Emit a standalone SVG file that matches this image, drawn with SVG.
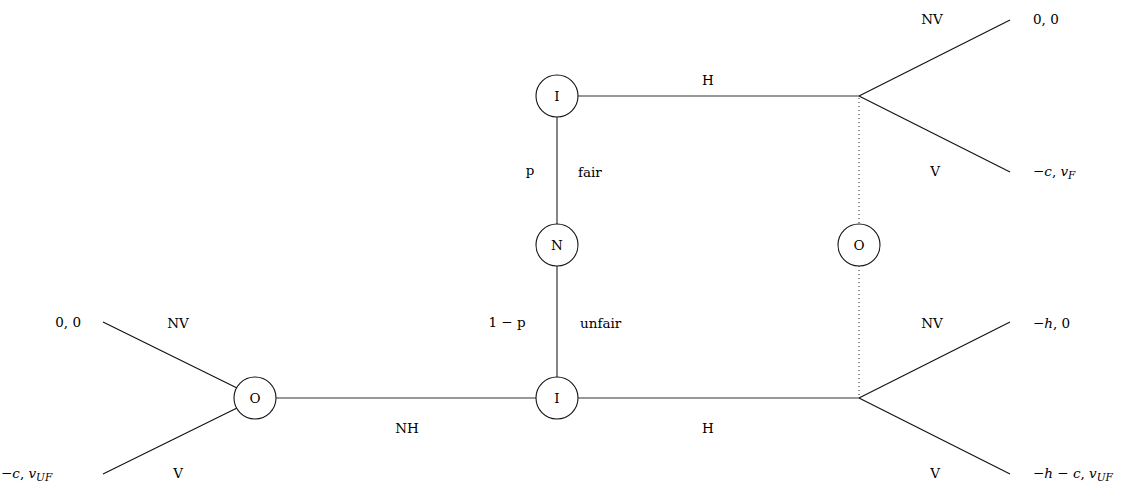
<svg xmlns="http://www.w3.org/2000/svg" width="1139" height="483" viewBox="0 0 1139 483">
<style>
text{font-family:"DejaVu Serif","Liberation Serif",serif;font-size:13.5px;fill:#000}
.m{font-style:italic}
.sub{font-size:10.5px;font-style:italic}
.e{stroke:#333;stroke-width:1.2;fill:none}
.d{stroke:#111;stroke-width:1.1;fill:none}
.dot{stroke:#222;stroke-width:1;stroke-dasharray:1 3;fill:none}
.n circle{fill:#fff;stroke:#111;stroke-width:1.1}
</style>
<rect width="1139" height="483" fill="#fff"/>
<g id="connectors">
<line class="e" x1="276" y1="398" x2="536" y2="398"/>
<line class="e" x1="578" y1="398" x2="859" y2="398"/>
<line class="e" x1="557" y1="377" x2="557" y2="266"/>
<line class="e" x1="557" y1="224" x2="557" y2="117"/>
<line class="e" x1="578" y1="96" x2="859" y2="96"/>
<line class="d" x1="237" y1="388" x2="103" y2="322"/>
<line class="d" x1="237" y1="408" x2="103" y2="474"/>
<line class="d" x1="859" y1="96" x2="1010" y2="20"/>
<line class="d" x1="859" y1="96" x2="1010" y2="172"/>
<line class="d" x1="859" y1="398" x2="1010" y2="322"/>
<line class="d" x1="859" y1="398" x2="1010" y2="474"/>
<line class="dot" x1="859" y1="98" x2="859" y2="224"/>
<line class="dot" x1="859" y1="266" x2="859" y2="396"/>
</g>
<g id="node-O-left" class="n"><circle cx="255" cy="398" r="21"/><text x="255" y="403" text-anchor="middle">O</text></g>
<g id="node-I-bottom" class="n"><circle cx="557" cy="398" r="21"/><text x="557" y="403" text-anchor="middle">I</text></g>
<g id="node-N" class="n"><circle cx="557" cy="245" r="21"/><text x="557" y="250" text-anchor="middle">N</text></g>
<g id="node-I-top" class="n"><circle cx="557" cy="96" r="21"/><text x="557" y="101" text-anchor="middle">I</text></g>
<g id="node-O-right" class="n"><circle cx="859" cy="245" r="21"/><text x="859" y="250" text-anchor="middle">O</text></g>
<g id="labels">
<text x="708" y="85" text-anchor="middle">H</text>
<text x="708" y="433" text-anchor="middle">H</text>
<text x="407" y="433" text-anchor="middle">NH</text>
<text x="530" y="175" text-anchor="middle">p</text>
<text x="578" y="177">fair</text>
<text x="507" y="327" text-anchor="middle">1 − p</text>
<text x="580" y="328">unfair</text>
<text x="178" y="328" text-anchor="middle">NV</text>
<text x="178" y="478" text-anchor="middle">V</text>
<text x="932" y="24" text-anchor="middle">NV</text>
<text x="935" y="176" text-anchor="middle">V</text>
<text x="932" y="328" text-anchor="middle">NV</text>
<text x="935" y="478" text-anchor="middle">V</text>
</g>
<g id="payoffs">
<text x="81" y="327" text-anchor="end">0, 0</text>
<text x="1" y="478">−<tspan class="m">c</tspan>, <tspan class="m">v</tspan><tspan class="sub" dy="3">UF</tspan></text>
<text x="1033" y="24">0, 0</text>
<text x="1033" y="176">−<tspan class="m">c</tspan>, <tspan class="m">v</tspan><tspan class="sub" dy="3">F</tspan></text>
<text x="1033" y="328">−<tspan class="m">h</tspan>, 0</text>
<text x="1033" y="478">−<tspan class="m">h</tspan> − <tspan class="m">c</tspan>, <tspan class="m">v</tspan><tspan class="sub" dy="3">UF</tspan></text>
</g>
</svg>
